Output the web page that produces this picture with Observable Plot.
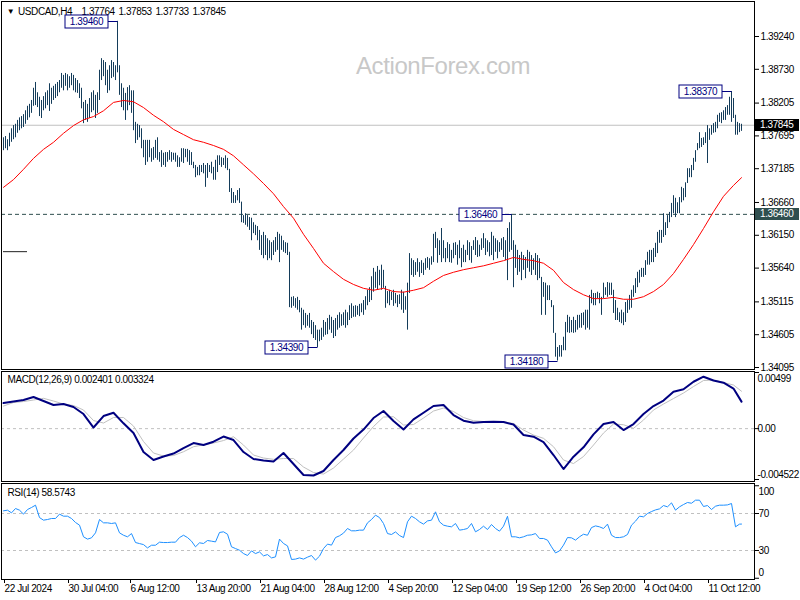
<!DOCTYPE html>
<html><head><meta charset="utf-8">
<script src="https://cdn.jsdelivr.net/npm/d3@7"></script>
<script src="https://cdn.jsdelivr.net/npm/@observablehq/plot@0.6"></script>
<style>
html,body{margin:0;padding:0;background:#fff;}
#chart{position:relative;width:800px;height:600px;overflow:hidden;background:#fff;}
#chart > svg{position:absolute;left:0;}
</style></head><body><div id="chart"></div>
<script>
// ---------- DATA ----------
const symbolName = "USDCAD,H4";
const ohlcText = ["1.37764", "1.37853", "1.37733", "1.37845"];
const watermark = "ActionForex.com";
const macdTitle = "MACD(12,26,9) 0.002401 0.003324";
const rsiTitle = "RSI(14) 58.5743";

const barHigh = [
1.3765,1.3767,1.3762,1.3772,1.3779,1.3784,1.3786,1.3792,1.3796,1.3798,
1.3801,1.3807,1.3814,1.3817,1.3823,1.3842,1.3851,1.3835,1.3828,1.3823,
1.3829,1.3835,1.3838,1.3849,1.3842,1.3845,1.3848,1.3851,1.3854,1.3865,
1.3862,1.3865,1.3863,1.3860,1.3865,1.3862,1.3857,1.3854,1.3849,1.3842,
1.3820,1.3823,1.3817,1.3826,1.3835,1.3838,1.3831,1.3835,1.3870,1.3888,
1.3885,1.3882,1.3870,1.3877,1.3885,1.3882,1.3877,1.3946,1.3877,1.3849,
1.3842,1.3834,1.3843,1.3846,1.3838,1.3838,1.3789,1.3786,1.3784,1.3779,
1.3761,1.3761,1.3761,1.3761,1.3748,1.3750,1.3761,1.3765,1.3742,1.3745,
1.3741,1.3742,1.3742,1.3745,1.3742,1.3741,1.3741,1.3737,1.3734,1.3748,
1.3748,1.3747,1.3747,1.3745,1.3742,1.3727,1.3722,1.3719,1.3722,1.3722,
1.3725,1.3722,1.3725,1.3722,1.3727,1.3719,1.3730,1.3737,1.3737,1.3734,
1.3733,1.3737,1.3733,1.3716,1.3686,1.3680,1.3675,1.3683,1.3686,1.3665,
1.3644,1.3647,1.3644,1.3641,1.3640,1.3633,1.3629,1.3627,1.3621,1.3613,
1.3618,1.3613,1.3608,1.3605,1.3602,1.3605,1.3610,1.3618,1.3615,1.3612,
1.3605,1.3602,1.3601,1.3587,1.3517,1.3518,1.3515,1.3517,1.3512,1.3500,
1.3497,1.3492,1.3489,1.3492,1.3481,1.3478,1.3473,1.3466,1.3466,1.3469,
1.3481,1.3478,1.3484,1.3489,1.3486,1.3481,1.3484,1.3489,1.3493,1.3490,
1.3493,1.3497,1.3493,1.3504,1.3507,1.3503,1.3504,1.3503,1.3506,1.3507,
1.3512,1.3518,1.3528,1.3532,1.3549,1.3562,1.3556,1.3565,1.3559,1.3567,
1.3559,1.3534,1.3526,1.3528,1.3525,1.3528,1.3523,1.3520,1.3521,1.3528,
1.3525,1.3518,1.3539,1.3585,1.3577,1.3574,1.3571,1.3577,1.3571,1.3574,
1.3570,1.3577,1.3579,1.3577,1.3580,1.3615,1.3618,1.3608,1.3605,1.3624,
1.3605,1.3593,1.3602,1.3599,1.3590,1.3601,1.3602,1.3598,1.3605,1.3593,
1.3598,1.3590,1.3605,1.3602,1.3596,1.3605,1.3610,1.3605,1.3598,1.3608,
1.3616,1.3608,1.3605,1.3602,1.3618,1.3612,1.3608,1.3605,1.3602,1.3608,
1.3610,1.3605,1.3624,1.3633,1.3646,1.3605,1.3598,1.3590,1.3582,1.3587,
1.3582,1.3579,1.3590,1.3587,1.3582,1.3577,1.3585,1.3582,1.3577,1.3548,
1.3540,1.3539,1.3535,1.3535,1.3512,1.3504,1.3461,1.3439,1.3442,1.3442,
1.3455,1.3478,1.3489,1.3486,1.3481,1.3486,1.3481,1.3489,1.3489,1.3492,
1.3493,1.3497,1.3497,1.3520,1.3528,1.3523,1.3523,1.3525,1.3523,1.3517,
1.3539,1.3532,1.3540,1.3539,1.3539,1.3528,1.3512,1.3500,1.3493,1.3497,
1.3493,1.3509,1.3512,1.3520,1.3528,1.3535,1.3546,1.3556,1.3559,1.3562,
1.3562,1.3574,1.3587,1.3590,1.3590,1.3593,1.3601,1.3618,1.3621,1.3621,
1.3647,1.3633,1.3644,1.3649,1.3663,1.3675,1.3671,1.3664,1.3672,1.3688,
1.3686,1.3695,1.3717,1.3717,1.3722,1.3733,1.3745,1.3756,1.3773,1.3764,
1.3765,1.3773,1.3784,1.3779,1.3784,1.3787,1.3789,1.3800,1.3803,1.3804,
1.3807,1.3812,1.3815,1.3828,1.3837,1.3826,1.3800,1.3789,1.3787,1.3786
];
const barLow = [
1.3745,1.3748,1.3745,1.3751,1.3758,1.3762,1.3765,1.3772,1.3776,1.3779,
1.3781,1.3786,1.3792,1.3796,1.3803,1.3814,1.3815,1.3812,1.3798,1.3795,
1.3807,1.3810,1.3815,1.3806,1.3817,1.3823,1.3826,1.3829,1.3835,1.3842,
1.3838,1.3845,1.3838,1.3842,1.3846,1.3838,1.3835,1.3834,1.3826,1.3810,
1.3787,1.3792,1.3789,1.3795,1.3804,1.3807,1.3795,1.3803,1.3823,1.3854,
1.3860,1.3846,1.3834,1.3838,1.3857,1.3859,1.3854,1.3866,1.3831,1.3812,
1.3807,1.3792,1.3807,1.3815,1.3803,1.3776,1.3756,1.3761,1.3765,1.3748,
1.3734,1.3722,1.3727,1.3734,1.3727,1.3730,1.3733,1.3730,1.3727,1.3719,
1.3722,1.3719,1.3727,1.3730,1.3727,1.3730,1.3727,1.3719,1.3719,1.3727,
1.3725,1.3734,1.3727,1.3722,1.3722,1.3717,1.3703,1.3706,1.3706,1.3711,
1.3709,1.3688,1.3702,1.3711,1.3709,1.3699,1.3699,1.3711,1.3722,1.3719,
1.3722,1.3717,1.3714,1.3680,1.3663,1.3663,1.3663,1.3667,1.3663,1.3633,
1.3632,1.3629,1.3626,1.3621,1.3605,1.3616,1.3613,1.3605,1.3590,1.3582,
1.3577,1.3582,1.3574,1.3577,1.3574,1.3582,1.3587,1.3590,1.3571,1.3590,
1.3587,1.3585,1.3582,1.3501,1.3500,1.3503,1.3500,1.3497,1.3493,1.3466,
1.3473,1.3469,1.3472,1.3469,1.3459,1.3453,1.3450,1.3439,1.3448,1.3450,
1.3455,1.3458,1.3459,1.3466,1.3461,1.3453,1.3456,1.3466,1.3469,1.3472,
1.3473,1.3469,1.3473,1.3481,1.3484,1.3486,1.3486,1.3489,1.3487,1.3493,
1.3489,1.3497,1.3504,1.3509,1.3512,1.3525,1.3531,1.3528,1.3535,1.3528,
1.3531,1.3500,1.3507,1.3504,1.3512,1.3503,1.3507,1.3501,1.3506,1.3497,
1.3492,1.3497,1.3466,1.3523,1.3551,1.3548,1.3551,1.3556,1.3548,1.3554,
1.3551,1.3559,1.3562,1.3559,1.3567,1.3571,1.3593,1.3570,1.3582,1.3571,
1.3577,1.3571,1.3577,1.3571,1.3570,1.3577,1.3582,1.3567,1.3577,1.3563,
1.3571,1.3571,1.3582,1.3574,1.3570,1.3590,1.3582,1.3579,1.3580,1.3590,
1.3593,1.3582,1.3587,1.3580,1.3582,1.3574,1.3587,1.3577,1.3587,1.3590,
1.3579,1.3574,1.3543,1.3587,1.3590,1.3532,1.3562,1.3551,1.3556,1.3543,
1.3559,1.3546,1.3562,1.3556,1.3551,1.3559,1.3551,1.3543,1.3546,1.3489,
1.3517,1.3489,1.3512,1.3512,1.3501,1.3461,1.3424,1.3418,1.3424,1.3424,
1.3434,1.3434,1.3462,1.3461,1.3462,1.3461,1.3462,1.3466,1.3469,1.3469,
1.3473,1.3466,1.3469,1.3466,1.3507,1.3504,1.3504,1.3515,1.3507,1.3489,
1.3515,1.3520,1.3517,1.3520,1.3520,1.3492,1.3481,1.3481,1.3478,1.3476,
1.3473,1.3478,1.3492,1.3497,1.3500,1.3517,1.3523,1.3532,1.3539,1.3548,
1.3548,1.3551,1.3567,1.3567,1.3571,1.3571,1.3579,1.3585,1.3601,1.3601,
1.3610,1.3613,1.3624,1.3633,1.3641,1.3647,1.3641,1.3647,1.3647,1.3664,
1.3667,1.3672,1.3694,1.3703,1.3703,1.3714,1.3727,1.3745,1.3748,1.3750,
1.3753,1.3756,1.3725,1.3761,1.3769,1.3772,1.3773,1.3779,1.3789,1.3787,
1.3792,1.3792,1.3800,1.3800,1.3789,1.3795,1.3769,1.3769,1.3773,1.3775
];

// moving average, MACD and signal sampled every 5 bars (plus last bar)
const maValues = [
1.3688,1.3700,1.3716,1.3733,1.3747,1.3758,1.3772,1.3784,1.3793,1.3798,
1.3807,1.3820,1.3823,1.3821,1.3812,1.3800,1.3790,1.3778,1.3770,1.3762,
1.3758,1.3753,1.3747,1.3737,1.3723,1.3709,1.3694,1.3678,1.3658,1.3640,
1.3615,1.3593,1.3570,1.3557,1.3545,1.3537,1.3531,1.3528,1.3531,1.3526,
1.3525,1.3528,1.3532,1.3542,1.3551,1.3556,1.3560,1.3563,1.3566,1.3570,
1.3574,1.3579,1.3576,1.3574,1.3570,1.3559,1.3540,1.3529,1.3521,1.3515,
1.3515,1.3517,1.3514,1.3514,1.3518,1.3526,1.3537,1.3554,1.3576,1.3599,
1.3624,1.3650,1.3674,1.3691,1.3703
];
const macdValues = [
0.002276,0.002409,0.002543,0.002809,0.002454,0.002098,0.002187,0.001920,0.001298,0.000098,
0.001120,0.001414,0.000471,-0.000391,-0.002080,-0.002791,-0.002480,-0.002214,-0.001725,-0.001280,
-0.001458,-0.001165,-0.000702,-0.001013,-0.002080,-0.002703,-0.002836,-0.002925,-0.002169,-0.003147,
-0.004125,-0.004169,-0.003769,-0.002791,-0.001902,-0.000880,-0.000080,0.000942,0.001565,0.000676,
-0.000080,0.000827,0.001414,0.002009,0.002098,0.001209,0.000702,0.000525,0.000587,0.000613,
0.000587,0.000364,-0.000569,-0.000720,-0.001191,-0.002347,-0.003592,-0.002498,-0.001662,-0.000507,
0.000409,0.000587,-0.000124,0.000409,0.001298,0.002009,0.002498,0.003280,0.003494,0.004169,
0.004614,0.004276,0.004081,0.003565,0.002401
];
const signalValues = [
0.002009,0.002320,0.002409,0.002543,0.002694,0.002454,0.002187,0.002054,0.001654,0.000720,
0.000498,0.000987,0.000987,0.000231,-0.001147,-0.002169,-0.002436,-0.002391,-0.002054,-0.001609,
-0.001440,-0.001280,-0.001058,-0.000720,-0.001458,-0.002347,-0.002614,-0.002729,-0.002658,-0.002658,
-0.003414,-0.003903,-0.004036,-0.003503,-0.002703,-0.001902,-0.000836,0.000187,0.001031,0.001058,
0.000320,0.000364,0.000942,0.001565,0.001831,0.001520,0.000987,0.000702,0.000631,0.000613,
0.000613,0.000453,-0.000124,-0.000569,-0.000862,-0.001609,-0.002791,-0.003103,-0.002480,-0.001458,
-0.000391,0.000409,0.000347,0.000027,0.000765,0.001654,0.002187,0.002676,0.003165,0.003743,
0.004276,0.004321,0.004098,0.003876,0.003324
];
// RSI sampled every 2 bars (plus last bar)
const rsiValues = [
72.9,73.6,70.7,75.4,73.6,69.3,74.3,76.5,79,65.6,
62.8,63.5,64.6,64.6,69.3,67.1,67.1,64.6,60.3,57.4,
44.8,42.3,43.7,49.1,63.5,59.9,59.9,59.2,59.9,49.1,
46.5,44.8,48.3,38.6,37.5,36.4,32.8,35.7,35.7,39,
38.6,38.6,39,39,44,46.5,44,40.1,34,38.3,
37.6,40.8,40.1,39.3,49.5,50.2,47.6,34,32.1,30.3,
26.7,24.6,29.6,26.7,28.5,24.2,25.6,22,23.1,42.3,
37.6,35,20.3,20.7,22,20.7,22.8,24.6,19.6,23.9,
32.1,36.9,35.8,44,45.9,48.8,53.8,51.3,51.3,52,
52,59.9,63.5,68.2,65.6,59.2,48.3,47.3,50.1,46.2,
44,61,67.1,64.6,61,58.5,62,62.8,71.8,61,
57.4,56.3,55.6,59.2,52,52.7,53.8,59.2,50.2,52.7,
56.3,52.7,58.1,53.8,50.9,56.3,67,44.8,44.8,43.7,
44.8,46.5,46.9,48.3,43,43,41.2,34,27.4,29.6,
35.8,44,43.7,41.2,44.8,47.6,46.5,54.8,56.6,55.6,
53.8,58.5,46.5,44,44,44.8,47.3,57.4,61.7,67.1,
66.4,70,72.1,73.9,75,78.6,77.2,81.5,73.6,77.2,
79.7,81.9,81.1,84.4,84.4,77.6,78.6,74.3,77.9,79,
79,79.3,80.8,55.6,58.5,58.57
];

const priceTicks = [1.39240,1.38730,1.38205,1.37695,1.37185,1.36660,1.36150,1.35640,1.35115,1.34605,1.34095];
const priceDomain = [1.34095, 1.39240];
const lastClose = 1.37845;
const resistance = 1.36460;
const stubLines = [{price: 1.3588, i1: 0, i2: 12}];
const peakLabels = [
  {i: 57, price: 1.39460}, {i: 364, price: 1.38370}, {i: 254, price: 1.36460},
  {i: 157, price: 1.34390}, {i: 277, price: 1.34180}
];
const macdAxisValues = [0.00499, 0, -0.004522];
const macdAxisText = ["0.00499", "0.00", "-0.004522"];
const rsiLevels = [30, 70];
const rsiAxisValues = [100, 70, 30, 0];
const timeTickIdx = [0, 32, 63, 96, 128, 160, 192, 224, 256, 288, 320, 352];
const timeTickLabels = ["22 Jul 2024","30 Jul 04:00","6 Aug 12:00","13 Aug 20:00","21 Aug 04:00","28 Aug 12:00","4 Sep 20:00","12 Sep 04:00","19 Sep 12:00","26 Sep 20:00","4 Oct 04:00","11 Oct 12:00"];

// ---------- BUILD ----------
const W = 800;
const FONT = '"Liberation Sans", Arial, sans-serif';
const BAR = "#143c5a", NAVY = "#000080", SILVER = "#c0c0c0";
const style = {fontFamily: FONT, fontSize: "10px", letterSpacing: "-0.4px", color: "black", background: "transparent", overflow: "visible"};
const nBars = barHigh.length;
const sampleIdx = [...d3.range(0, nBars, 5), nBars - 1];
const rsiIdx = [...d3.range(0, nBars - 1, 2), nBars - 1];
const xOpt = () => ({domain: [0, nBars - 1], range: [3, 741], axis: null});

const bars = barHigh.map((h, i) => ({i, high: h, low: barLow[i]}));
const maData = maValues.map((v, k) => ({i: sampleIdx[k], v}));
const macdData = macdValues.map((v, k) => ({i: sampleIdx[k], v}));
const signalData = signalValues.map((v, k) => ({i: sampleIdx[k], v}));
const rsiData = rsiValues.map((v, k) => ({i: rsiIdx[k], v}));
const timeLabel = new Map(timeTickIdx.map((t, k) => [t, timeTickLabels[k]]));

function peakBoxes(items) {
  return (index, scales) => {
    const g = d3.create("svg:g");
    for (const d of items) {
      const bx = Math.round(scales.x(d.i)) + 0.5;
      const by = Math.round(scales.y(d.price)) + 0.5;
      const r = bx - 9.5, l = r - 43;
      g.append("line").attr("x1", r).attr("x2", bx).attr("y1", by).attr("y2", by).attr("stroke", NAVY);
      g.append("rect").attr("x", l).attr("y", by - 6.5).attr("width", 43).attr("height", 13)
        .attr("fill", "white").attr("stroke", NAVY);
      g.append("text").attr("x", (l + r) / 2).attr("y", by).attr("dy", "0.36em")
        .attr("text-anchor", "middle").attr("fill", NAVY).text(d.price.toFixed(5));
    }
    return g.node();
  };
}
function priceTags(items) {
  return (index, scales, values, dims) => {
    const x0 = dims ? dims.width - dims.marginRight : 754;
    const g = d3.create("svg:g");
    for (const d of items) {
      const by = Math.round(scales.y(d.price));
      g.append("rect").attr("x", x0 + 1).attr("y", by - 6).attr("width", 44).attr("height", 12).attr("fill", d.bg);
      g.append("text").attr("x", x0 + 6).attr("y", by).attr("dy", "0.34em")
        .attr("text-anchor", "start").attr("fill", "white").text(d.price.toFixed(5));
    }
    return g.node();
  };
}
// header: symbol name then the four OHLC values at MT4's fixed column pitch
function header(name, values) {
  return () => {
    const t = d3.create("svg:text").attr("y", 11).attr("dy", "0.35em")
      .attr("text-anchor", "start").attr("fill", "black");
    t.append("tspan").attr("x", 18).text(name);
    values.forEach((v, k) => t.append("tspan").attr("x", 79 + 37 * k).text(" " + v));
    return t.node();
  };
}
function sideLabels(values, texts, dx) {
  const lo = d3.min(values), hi = d3.max(values);
  return values.map((v, k) => Plot.text([{v, t: texts[k]}], {
    y: "v", text: "t", frameAnchor: "right", dx, dy: v === hi ? 6 : v === lo ? -5 : 0,
    textAnchor: "start", lineAnchor: "middle", fill: "black"
  }));
}

const main = Plot.plot({
  width: W, height: 370, marginLeft: 1, marginRight: 46, marginTop: 1, marginBottom: 1,
  x: xOpt(),
  y: {domain: priceDomain, range: [366, 35], axis: null},
  style,
  marks: [
    Plot.ruleY([lastClose], {stroke: SILVER}),
    Plot.ruleY([resistance], {stroke: "#2f4f4f", strokeDasharray: "4,3"}),
    Plot.ruleY(stubLines, {y: "price", x1: "i1", x2: "i2", stroke: "#222"}),
    Plot.text([watermark], {text: d => d, frameAnchor: "top-left", dx: 441.5, dy: 65, textAnchor: "middle", lineAnchor: "middle", fontSize: 24, fill: "#c8c8c8"}),
    Plot.ruleX(bars, {x: "i", y1: "low", y2: "high", stroke: BAR, strokeWidth: 1}),
    Plot.line(maData, {x: "i", y: "v", stroke: "#ff0000", strokeWidth: 1}),
    Plot.text(["\u25BC"], {text: d => d, frameAnchor: "top-left", dx: 9, dy: 10, fontSize: 8, textAnchor: "middle", lineAnchor: "middle", fill: "black"}),
    header(symbolName, ohlcText),
    peakBoxes(peakLabels),
    priceTags([{price: lastClose, bg: "#000000"}, {price: resistance, bg: "#2f4f4f"}]),
    Plot.axisY({anchor: "right", label: null, ticks: priceTicks, tickFormat: d => d.toFixed(5), tickSize: 4, tickPadding: 2, textAnchor: "start", dy: 1}),
    Plot.frame({stroke: "black"})
  ]
});

const macd = Plot.plot({
  width: W, height: 112, marginLeft: 1, marginRight: 46, marginTop: 1, marginBottom: 1,
  x: xOpt(),
  y: {domain: [d3.min(macdAxisValues), d3.max(macdAxisValues)], range: [109, 2], axis: null},
  style,
  marks: [
    Plot.ruleY([0], {stroke: SILVER, strokeDasharray: "3,3"}),
    Plot.line(signalData, {x: "i", y: "v", stroke: SILVER, strokeWidth: 1}),
    Plot.line(macdData, {x: "i", y: "v", stroke: NAVY, strokeWidth: 2}),
    Plot.text([macdTitle], {text: d => d, frameAnchor: "top-left", dx: 6, dy: 8.5, textAnchor: "start", lineAnchor: "middle", fill: "black"}),
    Plot.axisY({anchor: "right", label: null, ticks: macdAxisValues, tickSize: 4, tickFormat: () => ""}),
    ...sideLabels(macdAxisValues, macdAxisText, 3),
    Plot.frame({stroke: "black"})
  ]
});

const rsi = Plot.plot({
  width: W, height: 118, marginLeft: 1, marginRight: 46, marginTop: 1, marginBottom: 21,
  x: xOpt(),
  y: {domain: [0, 100], range: [95.75, 3.25], axis: null},
  style,
  marks: [
    Plot.ruleY(rsiLevels, {stroke: SILVER, strokeDasharray: "3,3"}),
    Plot.line(rsiData, {x: "i", y: "v", stroke: "#1e90ff", strokeWidth: 1}),
    Plot.text([rsiTitle], {text: d => d, frameAnchor: "top-left", dx: 6, dy: 9.7, textAnchor: "start", lineAnchor: "middle", fill: "black"}),
    Plot.axisY({anchor: "right", label: null, ticks: rsiAxisValues, tickSize: 4, tickFormat: () => ""}),
    ...sideLabels(rsiAxisValues, rsiAxisValues.map(String), 4),
    Plot.axisX({anchor: "bottom", label: null, ticks: timeTickIdx, tickFormat: d => timeLabel.get(d), tickSize: 4, tickPadding: 1, textAnchor: "start", dx: 1}),
    Plot.frame({stroke: "black"})
  ]
});

const root = document.getElementById("chart");
[[main, 0], [macd, 370], [rsi, 482]].forEach(([svg, top]) => {
  svg.style.position = "absolute";
  svg.style.top = top + "px";
  svg.style.left = "0px";
  root.appendChild(svg);
});
</script></body></html>
